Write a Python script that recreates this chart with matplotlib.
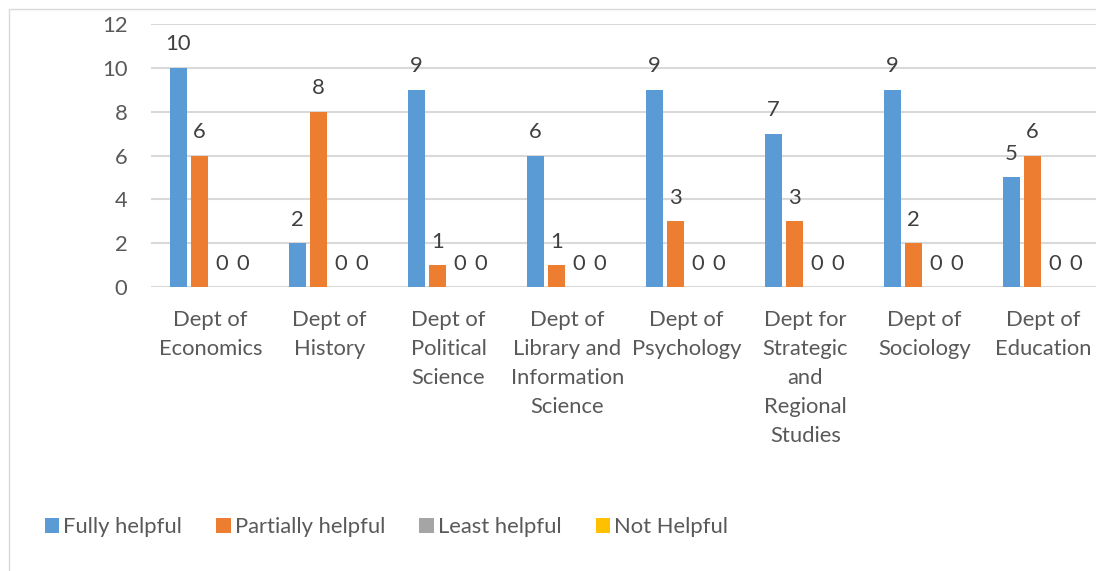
import matplotlib
matplotlib.use("Agg")
import matplotlib.pyplot as plt
import numpy as np
from matplotlib.patches import Rectangle

plt.rcParams['font.family'] = ['Lato', 'DejaVu Sans']

departments = ["Dept of\nEconomics", "Dept of\nHistory", "Dept of\nPolitical\nScience",
               "Dept of\nLibrary and\nInformation\nScience", "Dept of\nPsychology",
               "Dept for\nStrategic\nand\nRegional\nStudies", "Dept of\nSociology",
               "Dept of\nEducation"]
series_names = ["Fully helpful", "Partially helpful", "Least helpful", "Not Helpful"]
fully = [10, 2, 9, 6, 9, 7, 9, 5]
partially = [6, 8, 1, 1, 3, 3, 2, 6]
least = [0, 0, 0, 0, 0, 0, 0, 0]
not_helpful = [0, 0, 0, 0, 0, 0, 0, 0]
colors = ["#5B9BD5", "#ED7D31", "#A5A5A5", "#FFC000"]

txt = "#595959"
fs = 15.8
W, H = 1096, 571
fig = plt.figure(figsize=(W / 100, H / 100), dpi=100)

# chart border (right/bottom edges fall outside the image)
fig.patches.append(Rectangle((9 / W, -0.1), 1.2, 1 - 9 / H + 0.1, transform=fig.transFigure,
                             fill=False, edgecolor="#D9D9D9", linewidth=1.0))

ax = fig.add_axes([151 / W, (H - 287) / H, 952 / W, 263 / H])
x = np.arange(len(departments))
pitch = 0.181
width = 0.143
for i, (name, vals) in enumerate(zip(series_names, [fully, partially, least, not_helpful])):
    pos = x + (i - 1.5) * pitch
    ax.bar(pos, vals, width, color=colors[i], label=name, zorder=3)
    for px, v in zip(pos, vals):
        ax.annotate(str(v), (px, v), xytext=(0, 12.5), textcoords="offset points",
                    ha="center", va="baseline", fontsize=fs, color="#404040")

ax.set_xlim(-0.5, len(departments) - 0.5)
ax.set_ylim(0, 12)
ax.set_yticks(range(0, 13, 2))
ax.set_xticks(x)
ax.set_xticklabels(departments, fontsize=fs, color=txt, linespacing=1.56, va="top")
ax.tick_params(axis="y", length=0, pad=17, labelsize=fs, labelcolor=txt)
ax.tick_params(axis="x", length=0, pad=16.5)
ax.grid(axis="y", color="#D9D9D9", linewidth=1.5, zorder=0)
for s in ax.spines.values():
    s.set_visible(False)

handles, labels = ax.get_legend_handles_labels()
leg = fig.legend(handles, labels, loc="center left", bbox_to_anchor=(25 / W, 1 - 527 / H),
                 ncol=4, frameon=False, fontsize=fs, handlelength=0.65, handleheight=0.65,
                 handletextpad=0.2, columnspacing=1.55)
for t in leg.get_texts():
    t.set_color(txt)

fig.savefig("out.png", dpi=100)
